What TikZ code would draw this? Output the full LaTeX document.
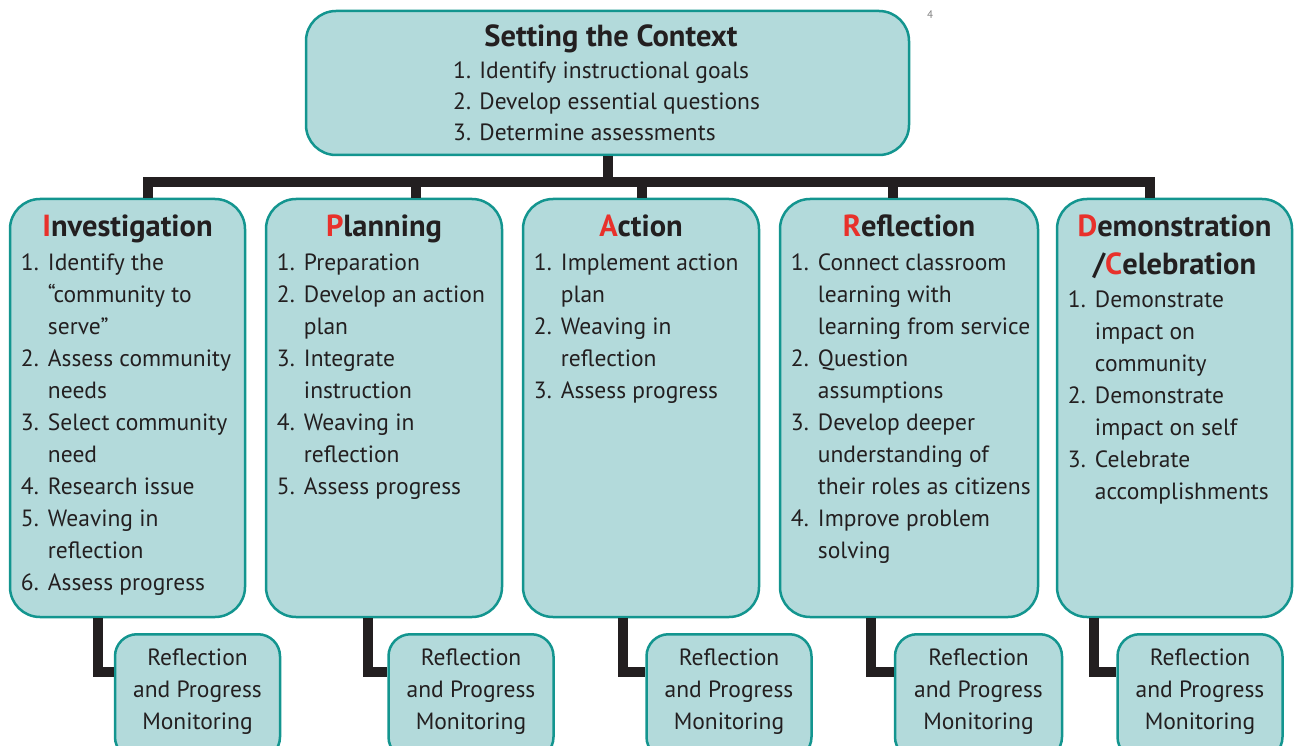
\documentclass[tikz,border=0pt]{standalone}
\usepackage{fontspec}
\setmainfont{PT Sans}
\usetikzlibrary{positioning}

\definecolor{boxfill}{HTML}{B3DADB}
\definecolor{boxline}{HTML}{13958F}
\definecolor{initial}{HTML}{E8312B}
\definecolor{ink}{HTML}{231F20}

\newcommand{\bodysize}{\fontsize{23.5}{32}\selectfont}
\newcommand{\headsize}{\fontsize{30.5}{38}\selectfont\bfseries}
\newcommand{\ini}[1]{\textcolor{initial}{#1}}

\tikzset{
  phase/.style={draw=boxline, fill=boxfill, line width=2.5pt, rounded corners=30pt,
    inner sep=0pt, minimum height=418pt},
  monitor/.style={draw=boxline, fill=boxfill, line width=2.5pt, rounded corners=22pt,
    anchor=north, minimum width=165pt, inner xsep=0pt, inner ysep=14.5pt,
    align=center, font=\bodysize, text=ink},
  link/.style={draw=ink, line width=10pt},
  head/.style={anchor=base, text=ink, font=\headsize, inner sep=0pt, align=center},
  steps/.style={anchor=north west, text=ink, font=\bodysize, inner sep=0pt, align=left},
}

\begin{document}
\begin{tikzpicture}[x=1pt,y=-1pt]
  \useasboundingbox (0,0) rectangle (1294,746);

  % setting the context
  \node[phase, minimum width=603pt, minimum height=144pt] (ctx) at (607.5,83) {};
  \node[head] (ctxH) at (611,47) {Setting the Context};
  \node[steps, font=\fontsize{23.5}{31}\selectfont] (ctxL) at (453,56.3)
    {\begin{tabular}{@{}l@{}}
      1. Identify instructional goals\\ 2. Develop essential questions\\ 3. Determine assessments
    \end{tabular}};
  \node[font=\fontsize{11}{13}\selectfont, text=gray] (page) at (930,15) {4};

  % the five phases
  \node[phase, minimum width=235pt] (inv) at (127.5,408) {};
  \node[phase, minimum width=236pt] (plan) at (384,408) {};
  \node[phase, minimum width=236pt] (act) at (641,408) {};
  \node[phase, minimum width=258pt] (refl) at (909,408) {};
  \node[phase, minimum width=235pt] (demo) at (1174.5,408) {};

  \node[head] (invH) at ([yshift=-39pt]inv.north) {\ini{I}nvestigation};
  \node[steps] (invL) at ([xshift=12pt,yshift=-50.6pt]inv.north west)
    {\begin{tabular}{@{}p{27pt}@{}l@{}}
      1. & Identify the\\ & ``community to\\ & serve''\\
      2. & Assess community\\ & needs\\
      3. & Select community\\ & need\\
      4. & Research issue\\
      5. & Weaving in\\ & reflection\\
      6. & Assess progress
    \end{tabular}};

  \node[head] (planH) at ([yshift=-39pt]plan.north) {\ini{P}lanning};
  \node[steps] (planL) at ([xshift=12pt,yshift=-50.6pt]plan.north west)
    {\begin{tabular}{@{}p{27pt}@{}l@{}}
      1. & Preparation\\
      2. & Develop an action\\ & plan\\
      3. & Integrate\\ & instruction\\
      4. & Weaving in\\ & reflection\\
      5. & Assess progress
    \end{tabular}};

  \node[head] (actH) at ([yshift=-39pt]act.north) {\ini{A}ction};
  \node[steps] (actL) at ([xshift=12pt,yshift=-50.6pt]act.north west)
    {\begin{tabular}{@{}p{27pt}@{}l@{}}
      1. & Implement action\\ & plan\\
      2. & Weaving in\\ & reflection\\
      3. & Assess progress
    \end{tabular}};

  \node[head] (reflH) at ([yshift=-39pt]refl.north) {\ini{R}eflection};
  \node[steps] (reflL) at ([xshift=12pt,yshift=-50.6pt]refl.north west)
    {\begin{tabular}{@{}p{27pt}@{}l@{}}
      1. & Connect classroom\\ & learning with\\ & learning from service\\
      2. & Question\\ & assumptions\\
      3. & Develop deeper\\ & understanding of\\ & their roles as citizens\\
      4. & Improve problem\\ & solving
    \end{tabular}};

  \node[head] (demoH) at ([yshift=-77pt]demo.north) {\ini{D}emonstration\\/\ini{C}elebration};
  \node[steps] (demoL) at ([xshift=12pt,yshift=-87.6pt]demo.north west)
    {\begin{tabular}{@{}p{27pt}@{}l@{}}
      1. & Demonstrate\\ & impact on\\ & community\\
      2. & Demonstrate\\ & impact on self\\
      3. & Celebrate\\ & accomplishments
    \end{tabular}};

  % monitoring boxes
  \node[monitor] (rI) at (197.5,633) {Reflection\\and Progress\\Monitoring\rule[-15pt]{0pt}{15pt}};
  \node[monitor] (rP) at (471,633) {Reflection\\and Progress\\Monitoring\rule[-15pt]{0pt}{15pt}};
  \node[monitor] (rA) at (729,633) {Reflection\\and Progress\\Monitoring\rule[-15pt]{0pt}{15pt}};
  \node[monitor, minimum width=167pt] (rR) at (978.5,633) {Reflection\\and Progress\\Monitoring\rule[-15pt]{0pt}{15pt}};
  \node[monitor] (rD) at (1200,633) {Reflection\\and Progress\\Monitoring\rule[-15pt]{0pt}{15pt}};

  % bar under the context box
  \coordinate (hub) at (607.5,182);
  \coordinate (bI) at (148,182);
  \coordinate (bP) at (416,182);
  \coordinate (bA) at (642,182);
  \coordinate (bR) at (893,182);
  \coordinate (bD) at (1150,182);

  \draw[link] (ctx.south) -- (hub);
  \draw[link, line join=miter] (bI |- inv.north) -- (bI) -- (bD) -- (bD |- demo.north);
  \foreach \b/\p in {bP/plan,bA/act,bR/refl}
    \draw[link] (\b) -- (\b |- \p.north);

  % L-shaped links down to the monitoring boxes
  \coordinate (fI) at (98,672);
  \coordinate (fP) at (368,672);
  \coordinate (fA) at (623,672);
  \coordinate (fR) at (871,672);
  \coordinate (fD) at (1094,672);

  \foreach \f/\p/\r in {fI/inv/rI,fP/plan/rP,fA/act/rA,fR/refl/rR,fD/demo/rD}
    \draw[link, line join=miter] (\f |- \p.south) |- (\f -| \r.west);
\end{tikzpicture}
\end{document}
